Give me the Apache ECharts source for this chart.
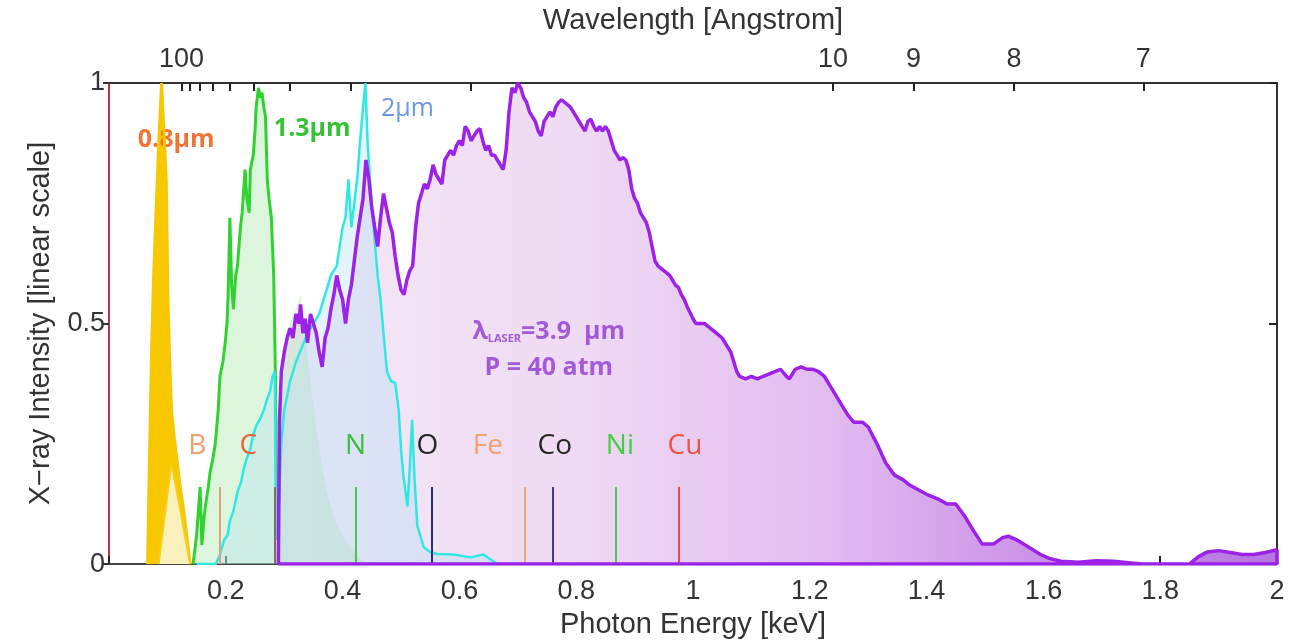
<!DOCTYPE html>
<html>
<head>
<meta charset="utf-8">
<script src="https://cdn.jsdelivr.net/npm/echarts@6/dist/echarts.min.js"></script>
<style>
  html, body { margin: 0; background: #fff; }
  #chart { width: 1304px; height: 644px; }
</style>
</head>
<body>
<div id="chart"></div>
<script>
// hc in keV·Angstrom, used to map wavelength ticks onto the energy axis
const HC = 12.398;

// top axis (wavelength, Angstrom)
const wavelengthTicks = [100, 90, 80, 70, 60, 50, 40, 30, 20, 10, 9, 8, 7];
const wavelengthLabels = [100, 10, 9, 8, 7];

// spectra: [photon energy keV, intensity]
const spec08 = [
  [0.066, 0], [0.069, 0.2], [0.073, 0.45], [0.077, 0.62], [0.082, 0.78], [0.086, 0.9],
  [0.090, 1.0], [0.094, 0.9], [0.098, 0.8], [0.101, 0.55], [0.104, 0.42], [0.107, 0.32],
  [0.112, 0.26], [0.116, 0.22], [0.122, 0.16], [0.127, 0.12], [0.133, 0.06], [0.139, 0]
];
const spec08low = [[0.085, 0], [0.107, 0.21], [0.139, 0]];

const spec13 = [
  [0.144, 0], [0.150, 0.06], [0.156, 0.16], [0.159, 0.04], [0.163, 0.10], [0.165, 0.12],
  [0.170, 0.16], [0.173, 0.19], [0.178, 0.22], [0.182, 0.25], [0.187, 0.32], [0.190, 0.39],
  [0.195, 0.42], [0.199, 0.46], [0.202, 0.50], [0.204, 0.56], [0.207, 0.72], [0.210, 0.58],
  [0.213, 0.53], [0.217, 0.60], [0.220, 0.62], [0.225, 0.70], [0.228, 0.73], [0.233, 0.82],
  [0.236, 0.76], [0.240, 0.73], [0.242, 0.82], [0.247, 0.85], [0.250, 0.90], [0.252, 0.95],
  [0.256, 0.99], [0.259, 0.97], [0.262, 0.98], [0.265, 0.95], [0.268, 0.93], [0.271, 0.80],
  [0.274, 0.76], [0.278, 0.72], [0.282, 0.60], [0.285, 0.39], [0.287, 0.10]
];
const spec13tail = [
  [0.287, 0.10], [0.292, 0.35], [0.300, 0.45], [0.310, 0.50], [0.320, 0.53], [0.328, 0.56],
  [0.335, 0.48], [0.345, 0.38], [0.355, 0.28], [0.365, 0.20], [0.375, 0.14], [0.390, 0.08],
  [0.410, 0.04], [0.430, 0.01], [0.450, 0]
];

const spec2 = [
  [0.150, 0], [0.183, 0], [0.190, 0.02], [0.197, 0.05], [0.203, 0.06], [0.207, 0.09],
  [0.213, 0.11], [0.220, 0.15], [0.226, 0.17], [0.231, 0.20], [0.236, 0.22], [0.242, 0.24],
  [0.247, 0.27], [0.253, 0.29], [0.258, 0.30], [0.265, 0.32], [0.270, 0.34], [0.276, 0.36],
  [0.280, 0.39], [0.284, 0.40], [0.286, 0.05], [0.290, 0.10], [0.295, 0.25], [0.300, 0.32],
  [0.310, 0.38], [0.320, 0.42], [0.330, 0.45], [0.340, 0.48], [0.350, 0.50], [0.360, 0.52],
  [0.370, 0.56], [0.380, 0.60], [0.390, 0.62], [0.400, 0.70], [0.405, 0.72], [0.410, 0.80],
  [0.415, 0.70], [0.420, 0.75], [0.425, 0.80], [0.430, 0.88], [0.435, 0.95], [0.439, 1.00],
  [0.443, 0.87], [0.448, 0.78], [0.453, 0.70], [0.460, 0.60], [0.465, 0.55], [0.470, 0.48],
  [0.476, 0.40], [0.483, 0.38], [0.490, 0.377], [0.496, 0.32], [0.500, 0.24], [0.504, 0.185],
  [0.511, 0.12], [0.515, 0.20], [0.519, 0.30], [0.523, 0.18], [0.528, 0.08], [0.539, 0.035],
  [0.550, 0.025], [0.562, 0.021], [0.590, 0.02], [0.619, 0.014], [0.641, 0.02], [0.665, 0]
];

const spec39 = [
  [0.290, 0], [0.292, 0.30], [0.295, 0.40], [0.300, 0.44], [0.305, 0.47], [0.310, 0.49],
  [0.315, 0.47], [0.320, 0.52], [0.325, 0.50], [0.328, 0.54], [0.332, 0.48], [0.336, 0.51],
  [0.340, 0.46], [0.345, 0.52], [0.350, 0.50], [0.355, 0.48], [0.360, 0.44], [0.365, 0.41],
  [0.370, 0.47], [0.375, 0.49], [0.380, 0.53], [0.385, 0.56], [0.390, 0.60], [0.395, 0.57],
  [0.400, 0.55], [0.405, 0.50], [0.410, 0.55], [0.415, 0.58], [0.420, 0.63], [0.425, 0.68],
  [0.430, 0.72], [0.435, 0.76], [0.440, 0.84], [0.445, 0.80], [0.450, 0.74], [0.455, 0.70],
  [0.460, 0.66], [0.465, 0.72], [0.470, 0.77], [0.475, 0.74], [0.480, 0.71], [0.485, 0.69],
  [0.490, 0.64], [0.495, 0.60], [0.500, 0.57], [0.505, 0.56], [0.510, 0.59], [0.515, 0.61],
  [0.520, 0.62], [0.525, 0.70], [0.530, 0.75], [0.535, 0.77], [0.540, 0.79], [0.545, 0.78],
  [0.550, 0.80], [0.555, 0.83], [0.560, 0.81], [0.565, 0.80], [0.570, 0.79], [0.575, 0.84],
  [0.580, 0.85], [0.585, 0.86], [0.590, 0.85], [0.595, 0.87], [0.600, 0.88], [0.605, 0.87],
  [0.610, 0.91], [0.615, 0.90], [0.620, 0.88], [0.625, 0.89], [0.630, 0.90], [0.635, 0.905],
  [0.640, 0.88], [0.645, 0.86], [0.650, 0.87], [0.655, 0.85], [0.660, 0.85], [0.665, 0.84],
  [0.670, 0.83], [0.675, 0.82], [0.680, 0.86], [0.685, 0.94], [0.690, 0.99], [0.695, 0.98],
  [0.700, 1.00], [0.705, 0.99], [0.710, 0.97], [0.715, 0.96], [0.720, 0.94], [0.725, 0.93],
  [0.730, 0.92], [0.735, 0.90], [0.740, 0.89], [0.745, 0.92], [0.750, 0.93], [0.755, 0.94],
  [0.760, 0.93], [0.765, 0.95], [0.770, 0.96], [0.775, 0.965], [0.780, 0.96], [0.785, 0.955],
  [0.790, 0.95], [0.795, 0.94], [0.800, 0.93], [0.805, 0.92], [0.810, 0.91], [0.815, 0.90],
  [0.820, 0.92], [0.825, 0.925], [0.830, 0.91], [0.835, 0.90], [0.840, 0.91], [0.845, 0.90],
  [0.850, 0.91], [0.855, 0.90], [0.860, 0.88], [0.865, 0.86], [0.870, 0.85], [0.875, 0.84],
  [0.880, 0.845], [0.885, 0.84], [0.890, 0.82], [0.895, 0.78], [0.900, 0.76], [0.905, 0.75],
  [0.910, 0.73], [0.915, 0.72], [0.920, 0.71], [0.925, 0.69], [0.930, 0.66], [0.935, 0.63],
  [0.940, 0.62], [0.950, 0.61], [0.960, 0.60], [0.965, 0.59], [0.970, 0.58], [0.975, 0.575],
  [0.980, 0.56], [0.985, 0.55], [0.990, 0.535], [1.000, 0.51], [1.005, 0.50], [1.010, 0.50],
  [1.020, 0.50], [1.030, 0.49], [1.040, 0.48], [1.050, 0.47], [1.060, 0.45], [1.065, 0.44],
  [1.070, 0.42], [1.075, 0.40], [1.080, 0.39], [1.090, 0.385], [1.100, 0.39], [1.110, 0.385],
  [1.120, 0.39], [1.130, 0.395], [1.140, 0.40], [1.150, 0.405], [1.160, 0.39], [1.165, 0.385],
  [1.175, 0.405], [1.185, 0.41], [1.195, 0.405], [1.205, 0.405], [1.215, 0.40], [1.225, 0.39],
  [1.240, 0.36], [1.255, 0.33], [1.265, 0.31], [1.275, 0.295], [1.290, 0.295], [1.300, 0.285],
  [1.315, 0.25], [1.330, 0.21], [1.345, 0.185], [1.360, 0.175], [1.370, 0.165], [1.385, 0.155],
  [1.400, 0.145], [1.420, 0.135], [1.435, 0.125], [1.450, 0.125], [1.465, 0.10], [1.480, 0.07],
  [1.495, 0.042], [1.515, 0.042], [1.530, 0.055], [1.540, 0.058], [1.555, 0.05], [1.575, 0.035],
  [1.595, 0.02], [1.610, 0.012], [1.630, 0.006], [1.660, 0.004], [1.690, 0.007], [1.720, 0.006],
  [1.745, 0.003], [1.770, 0], [1.850, 0], [1.865, 0.015], [1.880, 0.025], [1.900, 0.028],
  [1.920, 0.024], [1.940, 0.02], [1.960, 0.02], [1.980, 0.024], [2.000, 0.03]
];
// closed outline along the baseline
const spec39outline = spec39.concat([[2.0, 0], [0.29, 0]]);

// absorption edges
const edgeNames = ['B', 'C', 'N', 'O', 'Fe', 'Co', 'Ni', 'Cu'];
const edgeEnergy = [0.189, 0.283, 0.422, 0.552, 0.712, 0.760, 0.868, 0.976];
const edgeTop = 0.16;

// styling for the edge marks (kept apart from the data)
const edgeLineColor = ['#dba27e', '#8a6c66', '#4cc44c', '#2c2c6e', '#f0a478', '#3c3c80', '#4ccc4c', '#e84c40'];
const edgeTextColor = ['#f0a070', '#e8643a', '#3dbd3d', '#262626', '#f2a070', '#262626', '#3fcf3f', '#e8543e'];
const edgeTextShift = [-22, -26, 0, -4, -37, 2, 4, 6];

const chart = echarts.init(document.getElementById('chart'));

const axisFont = { fontFamily: 'Liberation Sans', fontSize: 27, color: '#333' };
const nameFont = { fontFamily: 'Liberation Sans', fontSize: 29, color: '#333' };
const noteFont = 'Open Sans';

const purpleFill = new echarts.graphic.LinearGradient(0, 0, 1, 0, [
  { offset: 0, color: '#f4e9f7' },
  { offset: 0.3, color: '#efdaf3' },
  { offset: 0.55, color: '#e2bcf0' },
  { offset: 0.75, color: '#cc94e8' },
  { offset: 1, color: '#b576e0' }
]);

const edgeMarkLines = edgeEnergy.map((e, i) => [
  { coord: [e, 0], lineStyle: { color: edgeLineColor[i], width: 2, type: 'solid' } },
  { coord: [e, edgeTop] }
]);

const noteLabel = (text, color, extra) => Object.assign({
  show: true, position: 'inside', formatter: text, color: color,
  fontFamily: noteFont, fontSize: 25, fontWeight: 'bold'
}, extra || {});

const markPoints = edgeEnergy.map((e, i) => ({
  coord: [e, 0.245],
  label: noteLabel(edgeNames[i], edgeTextColor[i], { offset: [edgeTextShift[i], 0], fontSize: 28, fontWeight: 'normal' })
})).concat([
  { coord: [0.115, 0.881], label: noteLabel('0.8\u00b5m', '#f07436') },
  { coord: [0.348, 0.905], label: noteLabel('1.3\u00b5m', '#35c335') },
  { coord: [0.511, 0.946], label: noteLabel('2\u00b5m', '#6c98e4', { fontWeight: 'normal' }) },
  { coord: [0.753, 0.4835], label: noteLabel('{a|\u03bb}{s|LASER}{a|=3.9  \u00b5m}', '#a25ad6', {
      rich: {
        a: { fontFamily: noteFont, fontSize: 25, fontWeight: 'bold', color: '#a25ad6' },
        s: { fontFamily: noteFont, fontSize: 11, fontWeight: 'bold', color: '#a25ad6', verticalAlign: 'bottom', padding: [10, 0, 0, 0] }
      }
    }) },
  { coord: [0.753, 0.407], label: noteLabel('P = 40 atm', '#a25ad6') }
]);

const option = {
  animation: false,
  backgroundColor: '#fff',
  grid: { left: 109, right: 27, top: 83, bottom: 74 },
  xAxis: [
    {
      type: 'value', min: 0, max: 2, interval: 0.2, position: 'bottom',
      name: 'Photon Energy [keV]', nameLocation: 'middle', nameGap: 40,
      nameTextStyle: nameFont,
      axisLine: { onZero: false, lineStyle: { color: '#444', width: 2 } },
      axisTick: { inside: true, length: 8, lineStyle: { color: '#222', width: 2 } },
      axisLabel: Object.assign({ margin: 14, formatter: v => (v === 0 ? '' : String(+v.toFixed(1))) }, axisFont),
      splitLine: { show: false }
    },
    {
      type: 'value', min: 0, max: 2, position: 'top',
      name: 'Wavelength [Angstrom]', nameLocation: 'middle', nameGap: 48,
      nameTextStyle: nameFont,
      axisLine: { onZero: false, lineStyle: { color: '#333', width: 2 } },
      axisTick: {
        inside: true, length: 8, lineStyle: { color: '#222', width: 2 },
        customValues: wavelengthTicks.map(w => HC / w)
      },
      axisLabel: Object.assign({
        margin: 10,
        customValues: wavelengthLabels.map(w => HC / w),
        formatter: v => String(Math.round(HC / v))
      }, axisFont),
      splitLine: { show: false }
    }
  ],
  yAxis: [
    {
      type: 'value', min: 0, max: 1, interval: 0.5, position: 'left',
      name: 'X\u2212ray Intensity [linear scale]', nameLocation: 'middle', nameGap: 54,
      nameTextStyle: nameFont,
      axisLine: { show: true, onZero: false, lineStyle: { color: '#b0383c', width: 2 } },
      axisTick: { show: true, length: 6, lineStyle: { color: '#333', width: 2 } },
      axisLabel: Object.assign({ margin: 4 }, axisFont),
      splitLine: { show: false }
    },
    {
      type: 'value', min: 0, max: 1, interval: 0.5, position: 'right',
      axisLine: { show: true, onZero: false, lineStyle: { color: '#333', width: 2 } },
      axisTick: { show: true, inside: true, length: 8, lineStyle: { color: '#222', width: 2 } },
      axisLabel: { show: false },
      splitLine: { show: false }
    }
  ],
  series: [
    {
      name: '3.9um fill', type: 'line', data: spec39, showSymbol: false, z: 1,
      lineStyle: { width: 0 }, areaStyle: { color: purpleFill, opacity: 1 }
    },
    {
      name: '1.3um tail', type: 'line', data: spec13tail, showSymbol: false, z: 2,
      lineStyle: { width: 0 },
      areaStyle: { color: 'rgba(165,228,165,0.5)' }
    },
    {
      name: '1.3um', type: 'line', data: spec13, showSymbol: false, z: 3,
      lineStyle: { color: '#2fd22f', width: 3 },
      areaStyle: { color: 'rgba(160,228,160,0.5)' }
    },
    {
      name: '2um', type: 'line', data: spec2, showSymbol: false, z: 4,
      lineStyle: { color: '#30e8e2', width: 2.5 },
      areaStyle: { color: 'rgba(175,225,245,0.5)' }
    },
    {
      name: '0.8um', type: 'line', data: spec08, showSymbol: false, z: 5,
      lineStyle: { color: '#f7c800', width: 3 },
      areaStyle: { color: '#f7c800', opacity: 1 }
    },
    {
      name: '0.8um low', type: 'line', data: spec08low, showSymbol: false, z: 6,
      lineStyle: { color: '#f5cf1c', width: 2 },
      areaStyle: { color: '#fbf1bd', opacity: 1 }
    },
    {
      name: '3.9um', type: 'line', data: spec39outline, showSymbol: false, z: 7,
      lineStyle: { color: '#9b22e6', width: 3.5 },
      markLine: { silent: true, symbol: ['none', 'none'], label: { show: false }, data: edgeMarkLines },
      markPoint: { silent: true, symbol: 'circle', symbolSize: 0, data: markPoints }
    }
  ]
};

chart.setOption(option);
</script>
</body>
</html>
